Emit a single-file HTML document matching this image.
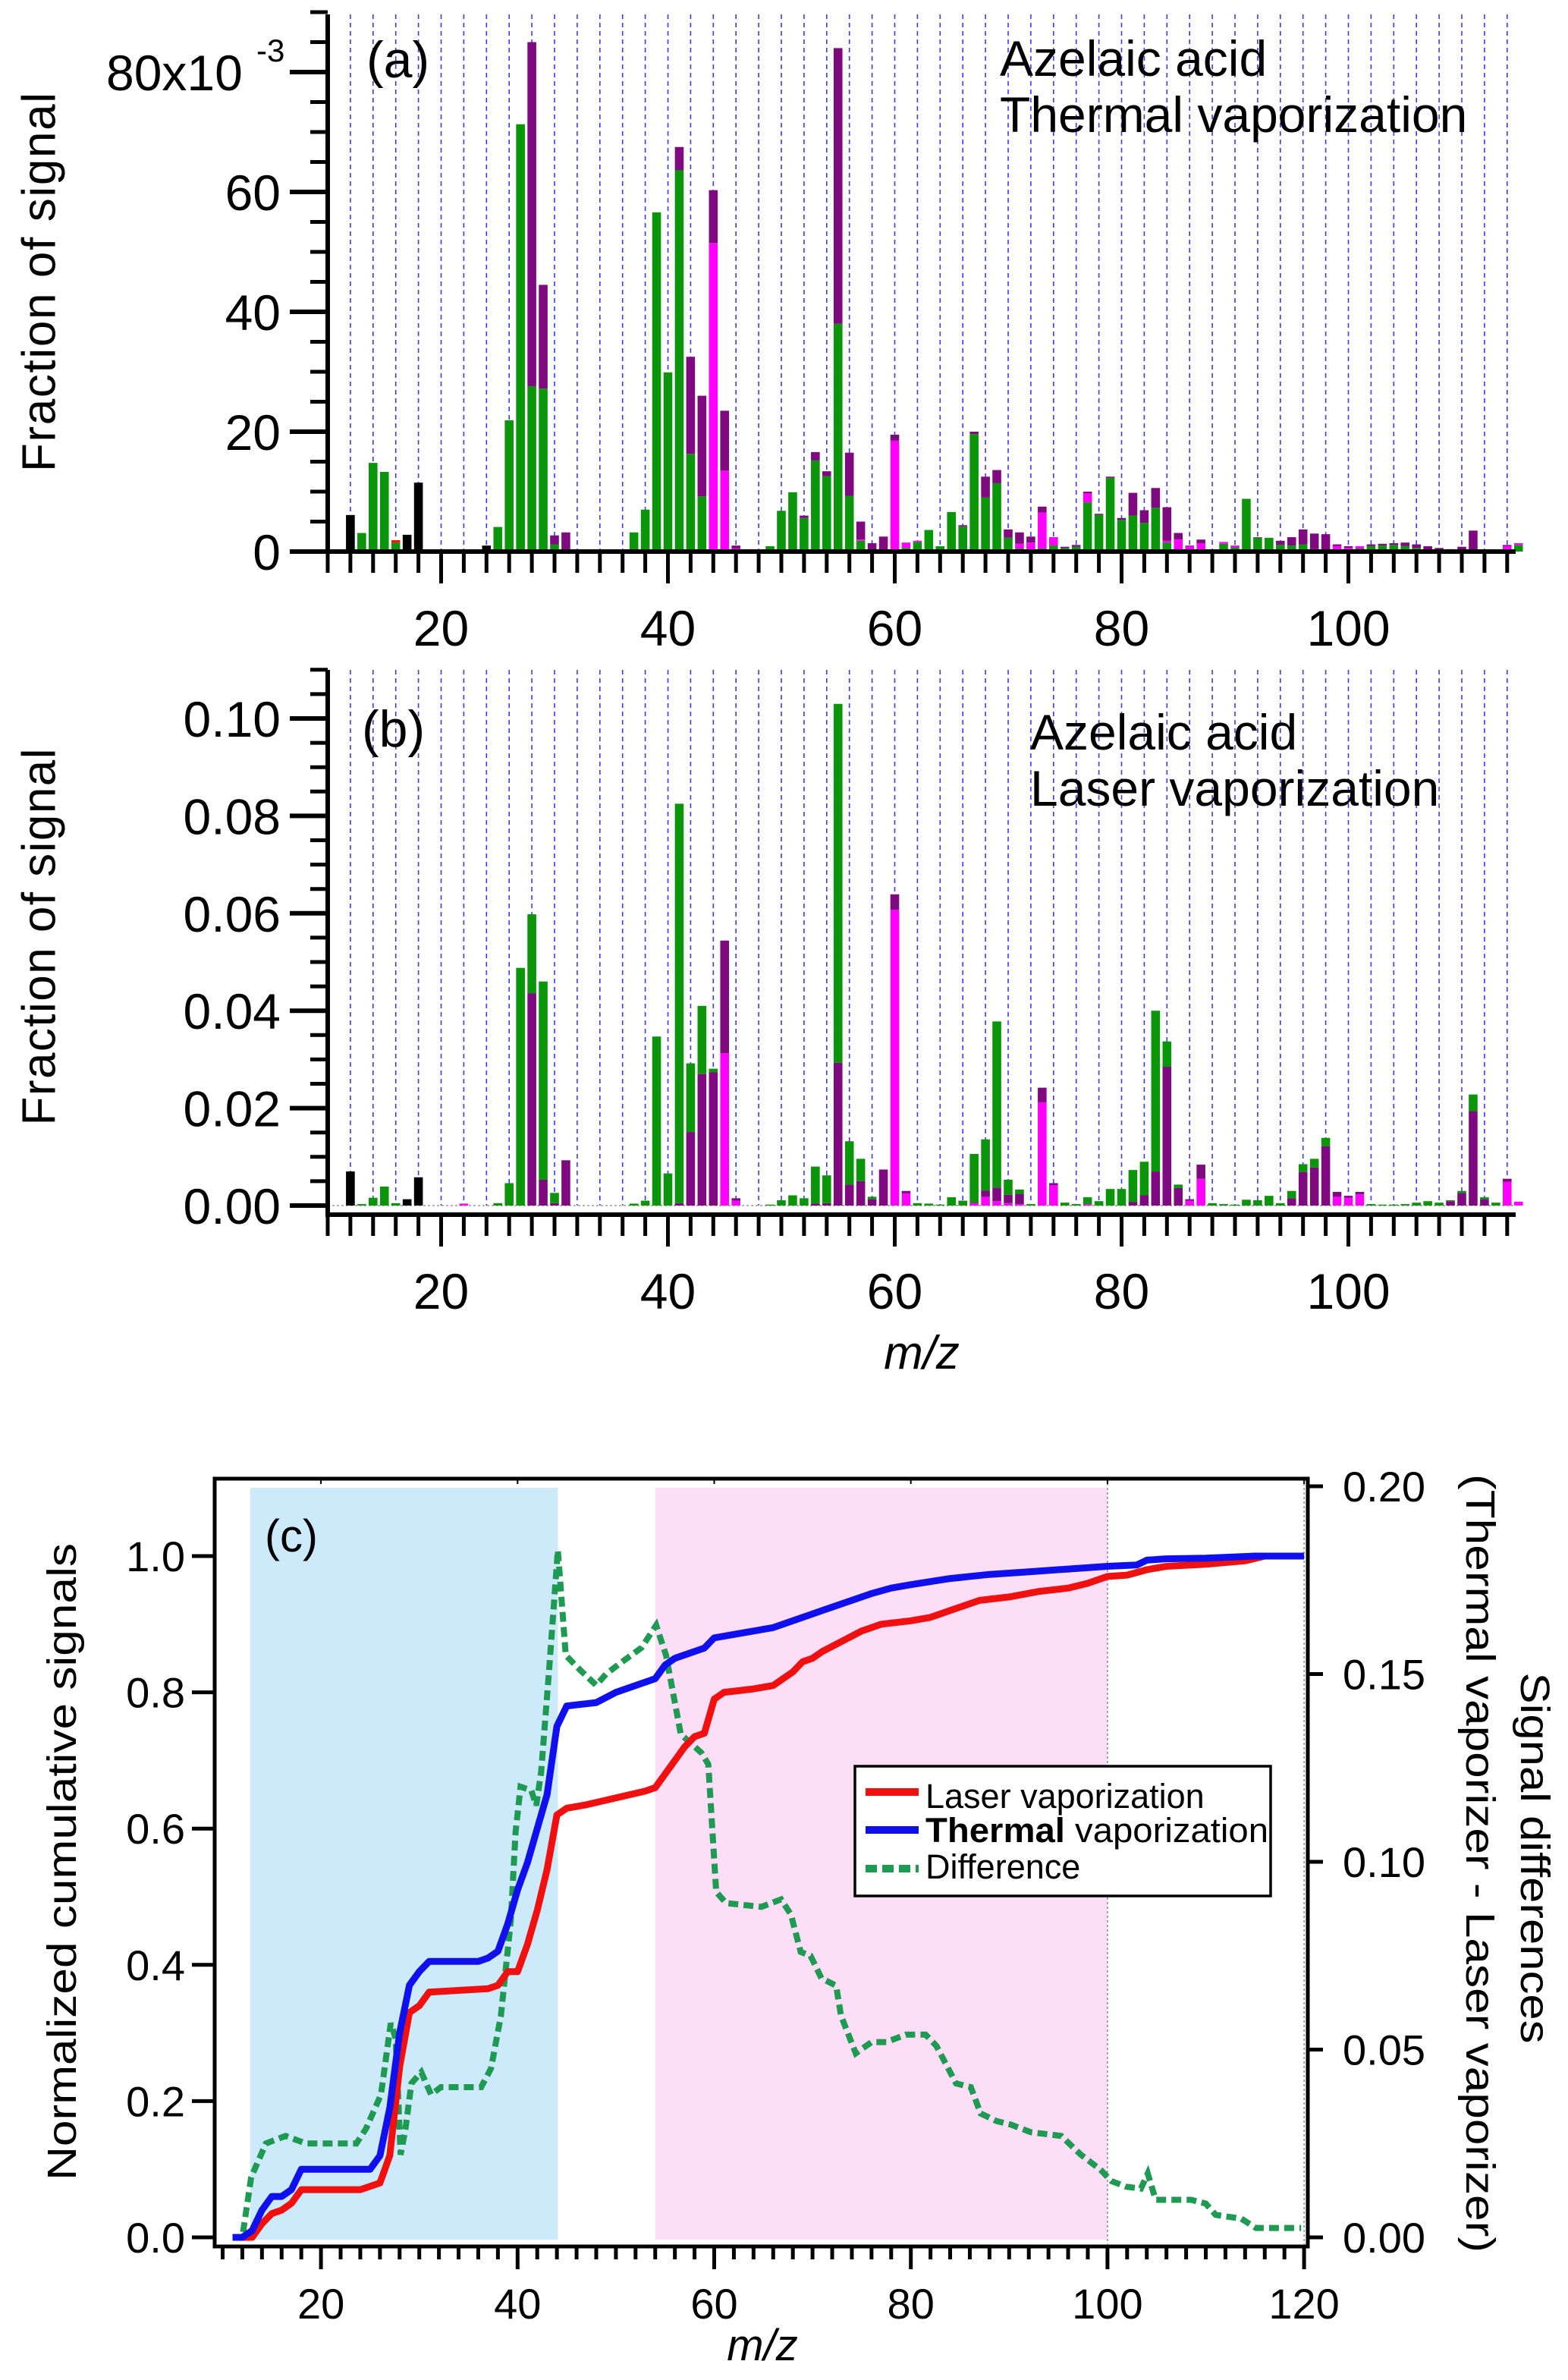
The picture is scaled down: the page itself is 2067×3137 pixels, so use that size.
<!DOCTYPE html>
<html><head><meta charset="utf-8"><style>
html,body{margin:0;padding:0;background:#fff}
svg{display:block;font-family:"Liberation Sans",sans-serif}
</style></head><body>
<svg id="fig" xmlns="http://www.w3.org/2000/svg" width="2067" height="3137" viewBox="0 0 2067 3137">
<rect x="0" y="0" width="2067" height="3137" fill="#fff"/>
<g id="pa"></g>
<g id="pb"></g>
<g id="pc"></g>
</svg>
<script>
// ---------- Panel data (m/z 12..115) ----------
const mzStart = 12;
// Panel (a) Thermal vaporization, units 1e-3, stack order green, magenta, purple, black, red
const aGreen = [0,3.1,14.8,13.3,1.5,0,0,0,0,0,0,0,0,4.1,21.9,71.3,27.6,27.2,1.2,0,0,0,0,0,0,3.2,7,56.6,29.9,63.6,16.3,9.2,0,0,0,0,0,0.9,6.8,9.9,5.6,15.2,12.6,38,9.3,1.8,0.3,0,0,0.6,1.6,3.6,0.9,6.6,4.2,19.6,9,11.4,2.3,0.5,0.3,0.5,1,0.6,0.8,8.2,6.1,12.3,5.3,6,4.8,7.3,1.5,0.1,0,0.3,0.2,1.3,0.7,8.8,2.3,2.3,1.1,1,1.2,0.4,0.3,0,0,0.5,0.9,1,1.1,0.9,0.6,0.3,0.2,0,0.1,0.1,0,0,0,1.1];
const aMagenta = [0,0,0,0,0,0,0,0,0,0,0.2,0,0,0,0,0,0,0,0,0,0,0,0,0,0,0,0,0,0,0,0,0,51.5,13.5,0.5,0,0,0,0,0,0,0,0,0,0,0.2,0,0,18.5,0.9,0.2,0,0,0,0,0,0,0,0,0.8,1.2,6,1.4,0,0,1.5,0,0,0,0,0,0,0.3,1.9,0.9,1.1,0,0.3,0.3,0,0,0,0,0,0,0,0,0.9,0.6,0.4,0,0,0,0,0,0,0,0,0,0,0,0,0.9,0.3];
const aPurple = [0,0,0,0,0,0,0,0,0,0,0,0,0,0,0,0,57.4,17.3,1.5,3.2,0,0,0,0,0,0,0,0,0,3.9,16.2,16.8,8.8,10,0.5,0,0,0,0,0,0.4,1.4,0.8,46,7.2,3,1.1,2.5,1,0,0,0,0,0,0.2,0.4,3.5,2.2,1.4,1.9,1,1,0,0.2,0.3,0.3,0.2,0.2,0.3,3.8,2.1,3.3,5.6,1.1,0.1,0.6,0,0,0,0,0.1,0,0.7,1.4,2.5,2.6,2.6,0.3,0.3,0,0.3,0.3,0.3,0.6,0.6,0.6,0.4,0.4,0.7,3.4,0.3,0.3,0.2,0];
const aBlack = [6.1,0,0,0,0,2.8,11.5,0,0,0,0,0,1,0,0,0,0,0,0,0,0,0,0,0,0,0,0,0,0,0,0,0,0,0,0,0,0,0,0,0,0,0,0,0,0,0,0,0,0,0,0,0,0,0,0,0,0,0,0,0,0,0,0,0,0,0,0,0,0,0,0,0,0,0,0,0,0,0,0,0,0,0,0,0,0,0,0,0,0,0,0,0,0,0,0,0,0,0,0,0,0,0,0,0];
const aRed = [0,0,0,0,0.4,0,0,0,0,0,0,0,0,0,0,0,0,0,0,0,0,0,0,0,0,0,0,0,0,0,0,0,0,0,0,0,0,0,0,0,0,0,0,0,0,0,0,0,0,0,0,0,0,0,0,0,0,0,0,0,0,0,0,0,0,0,0,0,0,0,0,0,0,0,0,0,0,0,0,0,0,0,0,0,0,0,0,0,0,0,0,0,0,0,0,0,0,0,0,0,0,0,0,0];
const aTicks = [0,20,40,60,80];
// Panel (b) Laser vaporization, units 1e-3, stack order black, magenta, purple, green
const bBlack = [7,0,0,0,0,1.3,5.8,0,0,0,0,0,0,0,0,0,0,0,0,0,0,0,0,0,0,0,0,0,0,0,0,0,0,0,0,0,0,0,0,0,0,0,0,0,0,0,0,0,0,0,0,0,0,0,0,0,0,0,0,0,0,0,0,0,0,0,0,0,0,0,0,0,0,0,0,0,0,0,0,0,0,0,0,0,0,0,0,0,0,0,0,0,0,0,0,0,0,0,0,0,0,0,0,0];
const bMagenta = [0,0,0,0,0,0,0,0,0,0,0.4,0,0,0,0,0,0,0,0,0,0,0,0,0,0,0,0,0,0,0,0,0,0,31.3,1,0,0,0,0,0,0,0,0,0,0,0,0,0,60.7,2.5,0,0,0,0,0,0.5,1.8,0.9,0.5,0.3,0,21.2,4.2,0,0,0.3,0,0,0,0,0,0,0,0,1,5.5,0,0,0,0,0,0,0,0,0,0,0,1.8,1.6,2.3,0,0,0,0,0,0,0,0,0,0,0,0,4.9,0.8];
const bPurple = [0,0,0,0,0,0,0,0,0,0,0,0,0,0,0,0,43.6,5.3,0.5,9.3,0,0,0,0,0,0,0,0,0,0.5,15.1,27,27.4,23.1,0.5,0,0,0,0,0,0,0.4,0.5,29.3,4.3,5,1.3,7.4,3.2,0.5,0,0,0,0,0,0.1,1.3,2.8,1.7,2.1,0,3,0.4,0,0,0,0,0,0,0.7,2.1,7,28.5,3.6,0.3,2.9,0,0,0,0,0,0,0,1.5,6.9,7.8,12.2,1,0.4,0.5,0,0,0,0,0,0,0,0.9,2.6,19.4,1.3,0,0.6,0];
const bGreen = [0,0.3,1.6,3.9,0.5,0,0,0,0,0,0,0,0,0.5,4.6,48.8,16.2,40.7,2.1,0,0,0,0,0,0,0.4,1,34.7,6.6,82,14.1,14,0.7,0,0,0,0,0.2,1.1,2.1,1.5,7.6,5.7,73.7,8.9,4.6,0.5,0,0,0,0.5,0.4,0.2,1.7,1,10,10.5,34.1,3.1,0.9,0.3,0,0,0.6,0.3,1.4,0.9,3.4,3.4,6.6,6.9,33,5.2,0.7,0,0,0.5,0.3,0.2,1.2,1.1,2,0.5,1.5,1.6,1.8,1.7,0,0,0,0.3,0.2,0.2,0.3,0.6,0.9,0.6,0.2,0.4,3.4,0.4,0.6,0,0];
const bTicks = [0,0.02,0.04,0.06,0.08,0.10];
const xTicksAB = [20,40,60,80,100];
// Panel (c) cumulative curves
const thermalMz = [11,12,13,14,15,16,17,18,25,26,27,28,29,30,31,36,37,38,39,40,41,42,43,44,45,48,50,52,54,55,56,58,59,60,62,64,66,68,70,72,74,76,78,80,84,88,92,96,100,103,104,106,110,115,120];
const thermalVal = [0,0,0.01,0.04,0.06,0.06,0.07,0.1,0.1,0.12,0.19,0.3,0.37,0.39,0.405,0.405,0.41,0.42,0.46,0.51,0.55,0.6,0.65,0.75,0.78,0.785,0.8,0.81,0.82,0.84,0.85,0.86,0.865,0.88,0.885,0.89,0.895,0.905,0.915,0.925,0.935,0.945,0.953,0.958,0.967,0.973,0.977,0.981,0.985,0.987,0.994,0.996,0.997,1,1];
const laserMz = [11,12,13,14,15,16,17,18,24,25,26,27,28,29,30,31,37,38,39,40,41,42,43,44,45,47,50,53,54,55,57,58,59,60,61,64,66,68,69,70,71,73,75,77,80,82,85,87,90,93,96,98,100,102,104,106,110,114,116,120];
const laserVal = [0,0,0,0.02,0.035,0.04,0.05,0.07,0.07,0.075,0.08,0.12,0.25,0.33,0.34,0.36,0.365,0.37,0.39,0.39,0.43,0.48,0.54,0.62,0.63,0.635,0.645,0.655,0.66,0.68,0.72,0.735,0.74,0.79,0.8,0.805,0.81,0.83,0.845,0.85,0.86,0.875,0.89,0.9,0.905,0.91,0.925,0.935,0.94,0.948,0.953,0.96,0.97,0.972,0.98,0.985,0.988,0.993,1,1];
const diffMz = [11,12,12.9,14.4,16.4,18.5,23.6,24.6,26.1,27.1,27.6,28.1,28.6,29.2,30.2,31.2,32.2,36.3,37.3,38.3,39.3,39.8,40.3,41.4,41.9,42.4,43.2,44.1,44.9,46.4,48,49,50.5,52.6,54.1,55.1,56.6,58.7,59.4,60.2,61.2,64.8,66.8,67.8,68.8,69.8,70.9,72.4,72.9,74.4,76,77.5,79.5,81.5,82.6,84.6,86.1,87.1,88.7,90.2,92.2,95.3,97.3,99.3,100.4,101.9,103.4,104.1,104.9,108.5,110,111,113.6,115.1,119.7];
const diffVal = [0,0,0.016,0.025,0.027,0.025,0.025,0.029,0.038,0.057,0.053,0.022,0.029,0.041,0.044,0.038,0.04,0.04,0.045,0.059,0.084,0.108,0.12,0.119,0.115,0.124,0.151,0.183,0.155,0.151,0.147,0.15,0.153,0.157,0.163,0.155,0.134,0.129,0.126,0.092,0.089,0.088,0.09,0.086,0.076,0.075,0.069,0.067,0.059,0.049,0.052,0.052,0.054,0.054,0.051,0.041,0.04,0.033,0.031,0.03,0.028,0.027,0.022,0.018,0.015,0.0135,0.013,0.017,0.01,0.01,0.009,0.006,0.005,0.0025,0.0025];
const cLeftTicks = [0,0.2,0.4,0.6,0.8,1.0];
const cRightTicks = [0,0.05,0.10,0.15,0.20];
const cXTicks = [20,40,60,80,100,120];

const NS = 'http://www.w3.org/2000/svg';
function mk(parent, tag, attrs, text){
  const e = document.createElementNS(NS, tag);
  for (const k in attrs) e.setAttribute(k, attrs[k]);
  if (text !== undefined) e.textContent = text;
  parent.appendChild(e);
  return e;
}
const pa = document.getElementById('pa'), pb = document.getElementById('pb'), pc = document.getElementById('pc');

// ---- shared bar panel x axis ----
const xAB = m => 432 + (m - 10) * 14.95;

function barPanel(g, top, zeroY, axisY, yScale, layers, ticks, tickFmt, minorStep, maxVal, prefix){
  // gridlines
  for (let m = 12; m <= 114; m += 2) {
    const l = mk(g, 'line', {x1:xAB(m), x2:xAB(m), y1:top, y2:zeroY, stroke:'#3a3aff', 'stroke-width':1.6, 'stroke-dasharray':'6 5'});
    
    
  }
  // bars
  const n = layers[0].vals.length;
  for (let i = 0; i < n; i++) {
    const m = mzStart + i;
    let acc = 0;
    for (const L of layers) {
      const v = L.vals[i];
      if (v > 0) {
        const y1 = zeroY - yScale(acc + v), y0 = zeroY - yScale(acc);
        const r = mk(g, 'rect', {x:xAB(m) - 5.8, y:y1, width:11.6, height:Math.max(y0 - y1, 0.8), fill:L.color});
        
        
      }
      acc += v;
    }
  }
  // y axis
  const ya = mk(g, 'line', {x1:432, x2:432, y1:top, y2:axisY + 3, stroke:'#000', 'stroke-width':6});
  
  
  for (let v = 0; v <= maxVal + 1e-9; v += minorStep) {
    const y = zeroY - yScale(v);
    mk(g, 'line', {x1:409, x2:432, y1:y, y2:y, stroke:'#000', 'stroke-width':5});
  }
  ticks.forEach(v => {
    const y = zeroY - yScale(v);
    mk(g, 'line', {x1:382, x2:432, y1:y, y2:y, stroke:'#000', 'stroke-width':6});
    const t = mk(g, 'text', {x:370, y:y + 24, 'font-size':66, 'text-anchor':'end'}, tickFmt(v));
    
    
  });
  // x axis
  const xa = mk(g, 'line', {x1:429, x2:1998, y1:axisY, y2:axisY, stroke:'#000', 'stroke-width':6});
  
  
  for (let m = 10; m <= 114; m += 2) {
    const major = (m % 20 === 0);
    mk(g, 'line', {x1:xAB(m), x2:xAB(m), y1:axisY, y2:axisY + (major ? 42 : 28), stroke:'#000', 'stroke-width':5});
  }
  xTicksAB.forEach(m => {
    const t = mk(g, 'text', {x:xAB(m), y:axisY + 124, 'font-size':66, 'text-anchor':'middle'}, String(m));
    
    
  });
}

// Panel a
barPanel(pa, 19, 727, 727, v => v * 7.9,
  [{name:'green', vals:aGreen, color:'#0b950b'},{name:'magenta', vals:aMagenta, color:'#ff00ff'},{name:'purple', vals:aPurple, color:'#7f0a7f'},{name:'black', vals:aBlack, color:'#000'},{name:'red', vals:aRed, color:'#ff1010'}],
  [0,20,40,60], v => String(v), 5, 90, 'a');
// 80x10^-3 label
(function(){
  const y = 727 - 80 * 7.9;
  mk(pa, 'line', {x1:382, x2:432, y1:y, y2:y, stroke:'#000', 'stroke-width':6});
  const t = mk(pa, 'text', {x:140, y:y + 24, 'font-size':66}, '80x10');
  
  
  const s = mk(pa, 'text', {x:338, y:y - 14, 'font-size':42}, '-3');
  
  
})();
let t;
t = mk(pa, 'text', {x:52, y:372, 'font-size':62, 'text-anchor':'middle', 'dominant-baseline':'central', transform:'rotate(-90 52 372)', textLength:500, lengthAdjust:'spacing'}, 'Fraction of signal');
 
t = mk(pa, 'text', {x:483, y:102, 'font-size':68}, '(a)');
 
t = mk(pa, 'text', {x:1318, y:100, 'font-size':66}, 'Azelaic acid');
 
t = mk(pa, 'text', {x:1318, y:174, 'font-size':66}, 'Thermal vaporization');
 

// Panel b
mk(pb, 'line', {x1:432, x2:1998, y1:1589, y2:1589, stroke:'#999', 'stroke-width':1.5, 'stroke-dasharray':'3 3'});
barPanel(pb, 883, 1589, 1601, v => v * 6.42,
  [{name:'black', vals:bBlack, color:'#000'},{name:'magenta', vals:bMagenta, color:'#ff00ff'},{name:'purple', vals:bPurple, color:'#7f0a7f'},{name:'green', vals:bGreen, color:'#0b950b'}],
  bTicks.map(v => v * 1000), v => (v / 1000).toFixed(2), 5, 110, 'b');
t = mk(pb, 'text', {x:52, y:1235, 'font-size':62, 'text-anchor':'middle', 'dominant-baseline':'central', transform:'rotate(-90 52 1235)', textLength:497, lengthAdjust:'spacing'}, 'Fraction of signal');
 
t = mk(pb, 'text', {x:477, y:984, 'font-size':68}, '(b)');
 
t = mk(pb, 'text', {x:1358, y:988, 'font-size':66}, 'Azelaic acid');
 
t = mk(pb, 'text', {x:1358, y:1062, 'font-size':66}, 'Laser vaporization');
 
t = mk(pb, 'text', {x:1215, y:1804, 'font-size':62, 'font-style':'italic', 'text-anchor':'middle'}, 'm/z');
 

// Panel c
const xC = m => 293.5 + (m - 10) * 12.96;
const yL = v => 2949 - v * 898;
const yR = d => 2949 - d * 4950;
let r;
r = mk(pc, 'rect', {x:xC(12.8), y:1961, width:xC(44.1) - xC(12.8), height:2952 - 1961, fill:'#cdeafa'});
 
r = mk(pc, 'rect', {x:xC(54), y:1961, width:xC(100) - xC(54), height:2952 - 1961, fill:'#fcdff6'});
 
mk(pc, 'line', {x1:xC(100), x2:xC(100), y1:1955, y2:2958, stroke:'#8888aa', 'stroke-width':1.5, 'stroke-dasharray':'3 3'});
mk(pc, 'line', {x1:xC(120), x2:xC(120), y1:1955, y2:2958, stroke:'#8888aa', 'stroke-width':1.5, 'stroke-dasharray':'3 3'});

function poly(xs, ys, fx, fy){ return xs.map((m,i) => fx(m).toFixed(1) + ',' + fy(ys[i]).toFixed(1)).join(' '); }
let p;
p = mk(pc, 'polyline', {points:poly(diffMz, diffVal, xC, yR), fill:'none', stroke:'#1f9a52', 'stroke-width':8, 'stroke-dasharray':'13 7'});
 
p = mk(pc, 'polyline', {points:poly(laserMz, laserVal, xC, yL), fill:'none', stroke:'#f01010', 'stroke-width':9, 'stroke-linejoin':'round'});
 
p = mk(pc, 'polyline', {points:poly(thermalMz, thermalVal, xC, yL), fill:'none', stroke:'#1010ee', 'stroke-width':9, 'stroke-linejoin':'round'});
 

// frame
r = mk(pc, 'rect', {x:283, y:1949, width:1724 - 283, height:2961 - 1949, fill:'none', stroke:'#000', 'stroke-width':5});
 
for (let m = 10; m <= 120; m += 2) {
  const major = (m % 20 === 0);
  mk(pc, 'line', {x1:xC(m), x2:xC(m), y1:2961, y2:2961 + (major ? 30 : 17), stroke:'#000', 'stroke-width':5});
  if (major) mk(pc, 'line', {x1:xC(m), x2:xC(m), y1:1949, y2:1956, stroke:'#000', 'stroke-width':2});
}
cXTicks.forEach(m => {
  const tt = mk(pc, 'text', {x:xC(m), y:3056, 'font-size':56, 'text-anchor':'middle'}, String(m));
   
});
cLeftTicks.forEach(v => {
  mk(pc, 'line', {x1:253, x2:283, y1:yL(v), y2:yL(v), stroke:'#000', 'stroke-width':5});
  const tt = mk(pc, 'text', {x:244, y:yL(v) + 20, 'font-size':56, 'text-anchor':'end'}, v.toFixed(1));
   
});
cRightTicks.forEach(v => {
  mk(pc, 'line', {x1:1724, x2:1744, y1:yR(v), y2:yR(v), stroke:'#000', 'stroke-width':5});
  const tt = mk(pc, 'text', {x:1770, y:yR(v) + 20, 'font-size':56}, v.toFixed(2));
   
});
t = mk(pc, 'text', {x:349, y:2045, 'font-size':60}, '(c)');
 
t = mk(pc, 'text', {x:82, y:2454, 'font-size':54, 'text-anchor':'middle', 'dominant-baseline':'central', transform:'rotate(-90 82 2454)', textLength:840, lengthAdjust:'spacingAndGlyphs'}, 'Normalized cumulative signals');
 
t = mk(pc, 'text', {x:2023, y:2449, 'font-size':54, 'text-anchor':'middle', 'dominant-baseline':'central', transform:'rotate(90 2023 2449)', textLength:489, lengthAdjust:'spacingAndGlyphs'}, 'Signal differences');
 
t = mk(pc, 'text', {x:1951, y:2456, 'font-size':54, 'text-anchor':'middle', 'dominant-baseline':'central', transform:'rotate(90 1951 2456)', textLength:1026, lengthAdjust:'spacingAndGlyphs'}, '(Thermal vaporizer - Laser vaporizer)');
 
t = mk(pc, 'text', {x:1005, y:3111, 'font-size':58, 'font-style':'italic', 'text-anchor':'middle'}, 'm/z');
 

// legend
const lg = mk(pc, 'g', {});
 
mk(lg, 'rect', {x:1127, y:2328, width:548, height:171, fill:'#fff', stroke:'#000', 'stroke-width':3.5});
const legItems = [
  {label:'Laser vaporization', color:'#f01010', dash:null, y:2362, ty:2383, name:'legend-entry-laser'},
  {label:'Thermal vaporization', color:'#1010ee', dash:null, y:2412, ty:2428, name:'legend-entry-thermal'},
  {label:'Difference', color:'#1f9a52', dash:'15 7', y:2463, ty:2476, name:'legend-entry-difference'}
];
legItems.forEach(it => {
  const gi = mk(lg, 'g', {});
  
  
  const a = {x1:1141, x2:1211, y1:it.y, y2:it.y, stroke:it.color, 'stroke-width':10};
  if (it.dash) a['stroke-dasharray'] = it.dash;
  mk(gi, 'line', a);
  if (it.label.startsWith('Thermal')) {
    const tx = mk(gi, 'text', {x:1220, y:it.ty, 'font-size':45, textLength:452, lengthAdjust:'spacingAndGlyphs'});
    mk(tx, 'tspan', {'font-weight':'bold'}, 'Thermal');
    mk(tx, 'tspan', {}, ' vaporization');
  } else {
    mk(gi, 'text', {x:1220, y:it.ty, 'font-size':45}, it.label);
  }
});
</script>
</body></html>
